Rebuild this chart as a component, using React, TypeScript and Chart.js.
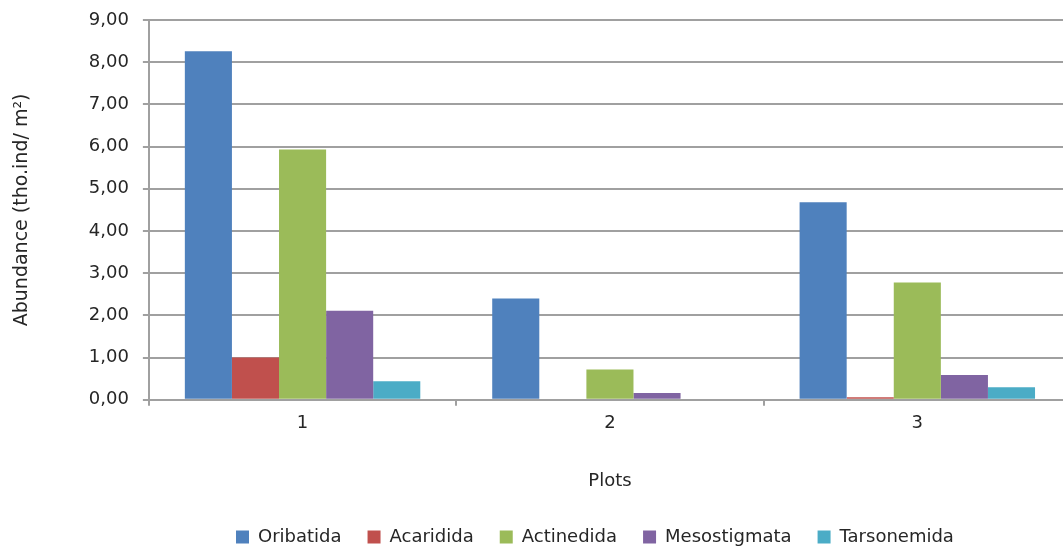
import React, { useEffect, useRef } from "react";
import { Chart, registerables } from "chart.js";

Chart.register(...registerables);

const categories = ["1", "2", "3"];
const seriesNames = ["Oribatida", "Acaridida", "Actinedida", "Mesostigmata", "Tarsonemida"];
const oribatida = [8.26, 2.4, 4.68];
const acaridida = [1.0, 0, 0.06];
const actinedida = [5.93, 0.72, 2.78];
const mesostigmata = [2.11, 0.16, 0.59];
const tarsonemida = [0.44, 0, 0.3];
const seriesColors = ["#4F81BD", "#C0504D", "#9BBB59", "#8064A2", "#4BACC6"];

const FONT = "'DejaVu Sans', sans-serif";

const legendShift = {
  id: "legendShift",
  afterLayout(chart: any) {
    const lg = chart.legend;
    if (lg) {
      lg.left -= 15;
      lg.right -= 15;
    }
  },
};

export default function App() {
  const ref = useRef<HTMLCanvasElement | null>(null);
  useEffect(() => {
    document.body.style.overflow = "hidden";
    document.documentElement.style.overflow = "hidden";
    const values = [oribatida, acaridida, actinedida, mesostigmata, tarsonemida];
    const chart = new Chart(ref.current!, {
      type: "bar",
      data: {
        labels: categories,
        datasets: seriesNames.map((name, i) => ({
          label: name,
          data: values[i],
          backgroundColor: seriesColors[i],
          borderWidth: 0,
          categoryPercentage: 0.766,
          barPercentage: 1,
        })),
      },
      plugins: [legendShift],
      options: {
        responsive: false,
        animation: false,
        layout: { padding: { left: 0, right: 9, top: 20, bottom: -9 } },
        plugins: {
          tooltip: { enabled: false },
          legend: {
            position: "bottom",
            fullSize: false,
            labels: {
              boxWidth: 13,
              boxHeight: 13,
              padding: 26,
              color: "#262626",
              font: { family: FONT, size: 18 },
            },
          },
        },
        scales: {
          x: {
            grid: {
              offset: true,
              drawOnChartArea: false,
              drawTicks: true,
              tickLength: 6,
              color: "#a0a0a0",
              lineWidth: 2,
            },
            border: { color: "#a0a0a0", width: 2 },
            ticks: { color: "#262626", font: { family: FONT, size: 18 }, padding: 7 },
            title: {
              display: true,
              text: "Plots",
              color: "#262626",
              font: { family: FONT, size: 18 },
              padding: { top: 29, bottom: 10 },
            },
          },
          y: {
            min: 0,
            max: 9,
            ticks: {
              stepSize: 1,
              color: "#262626",
              font: { family: FONT, size: 18, lineHeight: 0.6 },
              padding: 14,
              callback: (v: any) => Number(v).toFixed(2).replace(".", ","),
            },
            grid: { color: "#a0a0a0", lineWidth: 2, tickLength: 6 },
            border: { color: "#a0a0a0", width: 2 },
            title: {
              display: true,
              text: "Abundance (tho.ind/ m²)",
              color: "#262626",
              font: { family: FONT, size: 19 },
              padding: { top: 11, bottom: 41 },
            },
          },
        },
      },
    });
    return () => chart.destroy();
  }, []);
  return (
    <div style={{ position: "absolute", left: 0, top: 0, width: 1080, height: 547 }}>
      <canvas ref={ref} width={1080} height={547} />
    </div>
  );
}
